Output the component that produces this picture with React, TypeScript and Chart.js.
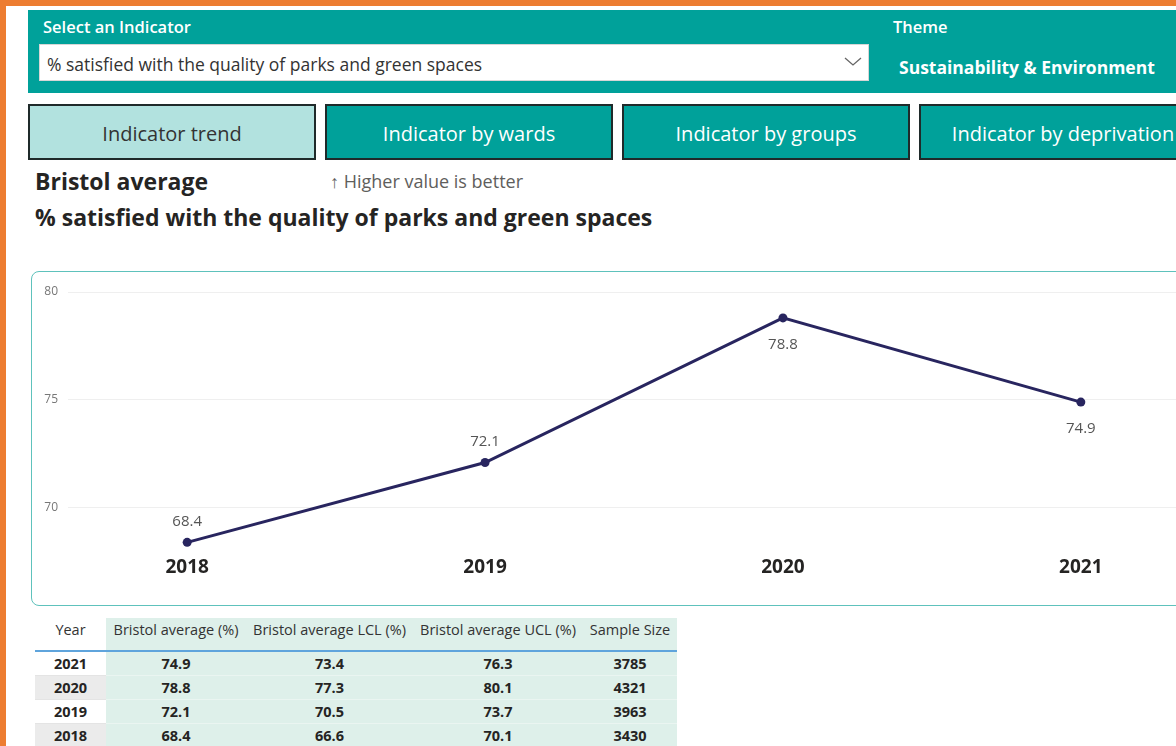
import React, { useEffect, useRef } from "react";
import { Chart, registerables } from "chart.js";

Chart.register(...registerables);

const years = [2018, 2019, 2020, 2021];
const bristolAverage = [68.4, 72.1, 78.8, 74.9];
const bristolLCL = [66.6, 70.5, 77.3, 73.4];
const bristolUCL = [70.1, 73.7, 80.1, 76.3];
const sampleSize = [3430, 3963, 4321, 3785];
const yTickValues = [70, 75, 80];
const yMin = 68;
const yMax = 80;

const indicatorName = "% satisfied with the quality of parks and green spaces";
const themeName = "Sustainability & Environment";
const tabs = ["Indicator trend", "Indicator by wards", "Indicator by groups", "Indicator by deprivation"];
const tableHeaders = ["Year", "Bristol average (%)", "Bristol average LCL (%)", "Bristol average UCL (%)", "Sample Size"];

const FONT = "'Open Sans', 'Noto Sans', sans-serif";
const TEAL = "#00A19A";
const LINE = "#28255F";

const labelPlugin = {
  id: "valueLabels",
  afterDatasetsDraw(chart: any) {
    const meta = chart.getDatasetMeta(0);
    const vals: number[] = bristolAverage;
    const ctx = chart.ctx;
    ctx.save();
    ctx.font = `15px ${FONT}`;
    ctx.fillStyle = "#555555";
    ctx.textAlign = "center";
    ctx.textBaseline = "middle";
    meta.data.forEach((pt: any, i: number) => {
      const v = vals[i];
      const prev = i > 0 ? vals[i - 1] : -Infinity;
      const next = i < vals.length - 1 ? vals[i + 1] : Infinity;
      const below = prev > v || next < v;
      const y = below ? pt.y + 27 : pt.y - 21;
      ctx.fillText(v.toFixed(1), pt.x, y);
    });
    ctx.restore();
  },
};

function TrendChart() {
  const ref = useRef<HTMLCanvasElement | null>(null);
  useEffect(() => {
    if (!ref.current) return;
    const chart = new Chart(ref.current, {
      type: "line",
      data: {
        datasets: [
          {
            label: "Bristol average",
            data: years.map((yr, i) => ({ x: yr, y: bristolAverage[i] })),
            borderColor: LINE,
            backgroundColor: LINE,
            borderWidth: 3,
            pointRadius: 4.5,
            pointBackgroundColor: LINE,
            pointBorderWidth: 0,
            tension: 0,
          },
        ],
      },
      options: {
        animation: false,
        responsive: false,
        layout: { padding: { top: 20, right: 10, left: 0, bottom: 0 } },
        plugins: { legend: { display: false }, tooltip: { enabled: false } },
        scales: {
          x: {
            type: "linear",
            min: years[0] - 0.4,
            max: years[years.length - 1] + 0.4,
            afterBuildTicks: (axis: any) => {
              axis.ticks = years.map((v) => ({ value: v }));
            },
            afterFit: (s: any) => {
              s.height = 54;
            },
            grid: { display: false, drawTicks: false },
            border: { display: false },
            ticks: {
              callback: (v: any) => String(v),
              font: { family: FONT, size: 19, weight: "bold" },
              color: "#252423",
              padding: 5,
              maxRotation: 0,
              autoSkip: false,
            },
          },
          y: {
            min: yMin,
            max: yMax,
            afterBuildTicks: (axis: any) => {
              axis.ticks = yTickValues.map((v) => ({ value: v }));
            },
            afterFit: (s: any) => {
              s.width = 36;
            },
            grid: { color: "#EFEFEF", drawTicks: false },
            border: { display: false },
            ticks: {
              font: { family: FONT, size: 12 },
              color: "#777777",
              padding: 10,
            },
          },
        },
      },
      plugins: [labelPlugin],
    } as any);
    return () => chart.destroy();
  }, []);
  return <canvas ref={ref} width={1178} height={333} style={{ width: 1178, height: 333, display: "block" }} />;
}

const abs = (l: number, t: number, extra: React.CSSProperties = {}): React.CSSProperties => ({
  position: "absolute",
  left: l,
  top: t,
  ...extra,
});

export default function App() {
  const colWidths = [71, 140, 167, 170, 94];
  const rows = years
    .map((yr, i) => ({ yr, avg: bristolAverage[i], lcl: bristolLCL[i], ucl: bristolUCL[i], n: sampleSize[i] }))
    .reverse();
  return (
    <div
      style={{
        position: "fixed",
        left: 0,
        top: 0,
        width: 1176,
        height: 746,
        overflow: "hidden",
        background: "#ffffff",
        fontFamily: FONT,
      }}
    >
      {/* orange frame */}
      <div style={abs(0, 0, { width: 1176, height: 6, background: "#ED7D31" })} />
      <div style={abs(0, 0, { width: 6, height: 746, background: "#ED7D31" })} />

      {/* header band */}
      <div style={abs(28, 10, { width: 1160, height: 83, background: TEAL })} />
      <div style={abs(43, 16, { color: "#fff", fontSize: 16.5, fontWeight: 600, lineHeight: "22px" })}>Select an Indicator</div>
      <div
        style={abs(39, 44, {
          width: 830,
          height: 37,
          background: "#fff",
          border: "1px solid #d6d6d6",
          boxSizing: "border-box",
        })}
      >
        <div style={abs(7, 8, { fontSize: 17.5, color: "#333", lineHeight: "22px", whiteSpace: "nowrap" })}>{indicatorName}</div>
        <svg style={abs(804, 12)} width={18} height={10} viewBox="0 0 18 10">
          <polyline points="1,1 9,8 17,1" fill="none" stroke="#666" strokeWidth={1.3} />
        </svg>
      </div>
      <div style={abs(893, 16, { color: "#fff", fontSize: 16.5, fontWeight: 600, lineHeight: "22px" })}>Theme</div>
      <div style={abs(899, 55, { color: "#fff", fontSize: 17.5, fontWeight: 700, lineHeight: "24px", whiteSpace: "nowrap" })}>
        {themeName}
      </div>

      {/* tabs */}
      {tabs.map((t, i) => (
        <div
          key={t}
          style={abs(28 + i * 297, 104, {
            width: 288,
            height: 56,
            boxSizing: "border-box",
            border: "2px solid #1f2a2a",
            background: i === 0 ? "#B2E2DF" : TEAL,
            color: i === 0 ? "#333" : "#fff",
            fontSize: 20,
            display: "flex",
            alignItems: "center",
            justifyContent: "center",
            whiteSpace: "nowrap",
            paddingTop: 2,
          })}
        >
          {t}
        </div>
      ))}

      {/* titles */}
      <div style={abs(35, 166, { fontSize: 23, fontWeight: 700, color: "#252423", lineHeight: "30px" })}>Bristol average</div>
      <div style={abs(330, 170, { fontSize: 18, color: "#605E5C", lineHeight: "22px", whiteSpace: "nowrap" })}>
        ↑ Higher value is better
      </div>
      <div style={abs(35, 202, { fontSize: 23, fontWeight: 700, color: "#252423", lineHeight: "30px", whiteSpace: "nowrap" })}>
        {indicatorName}
      </div>

      {/* chart frame */}
      <div
        style={abs(31, 271, {
          width: 1180,
          height: 335,
          boxSizing: "border-box",
          border: "1px solid #5EC2BC",
          borderRadius: 8,
          background: "#fff",
          overflow: "hidden",
        })}
      >
        <TrendChart />
      </div>

      {/* table */}
      <table
        style={abs(35, 618, {
          borderCollapse: "collapse",
          tableLayout: "fixed",
          fontSize: 14.5,
          color: "#252423",
        })}
      >
        <colgroup>
          {colWidths.map((w, i) => (
            <col key={i} style={{ width: w }} />
          ))}
        </colgroup>
        <thead>
          <tr style={{ height: 33 }}>
            {tableHeaders.map((h, i) => (
              <th
                key={h}
                style={{
                  fontWeight: 400,
                  color: "#333",
                  background: i === 0 ? "#fff" : "#DEF0EA",
                  borderBottom: "2px solid #5FA4DC",
                  padding: "2px 0 0 0",
                  verticalAlign: "top",
                  textAlign: "center",
                  whiteSpace: "nowrap",
                }}
              >
                {h}
              </th>
            ))}
          </tr>
        </thead>
        <tbody>
          {rows.map((r, ri) => (
            <tr key={r.yr} style={{ height: 24 }}>
              <td
                style={{
                  background: ri % 2 === 1 ? "#EBEBEB" : "#fff",
                  fontWeight: 700,
                  textAlign: "center",
                  padding: 0,
                  borderBottom: "1px solid #E4E4E4",
                }}
              >
                {r.yr}
              </td>
              {[r.avg.toFixed(1), r.lcl.toFixed(1), r.ucl.toFixed(1), String(r.n)].map((v, ci) => (
                <td
                  key={ci}
                  style={{
                    background: "#DEF0EA",
                    fontWeight: 700,
                    textAlign: "center",
                    padding: 0,
                    borderBottom: "1px solid #EAF5F1",
                  }}
                >
                  {v}
                </td>
              ))}
            </tr>
          ))}
        </tbody>
      </table>
    </div>
  );
}
